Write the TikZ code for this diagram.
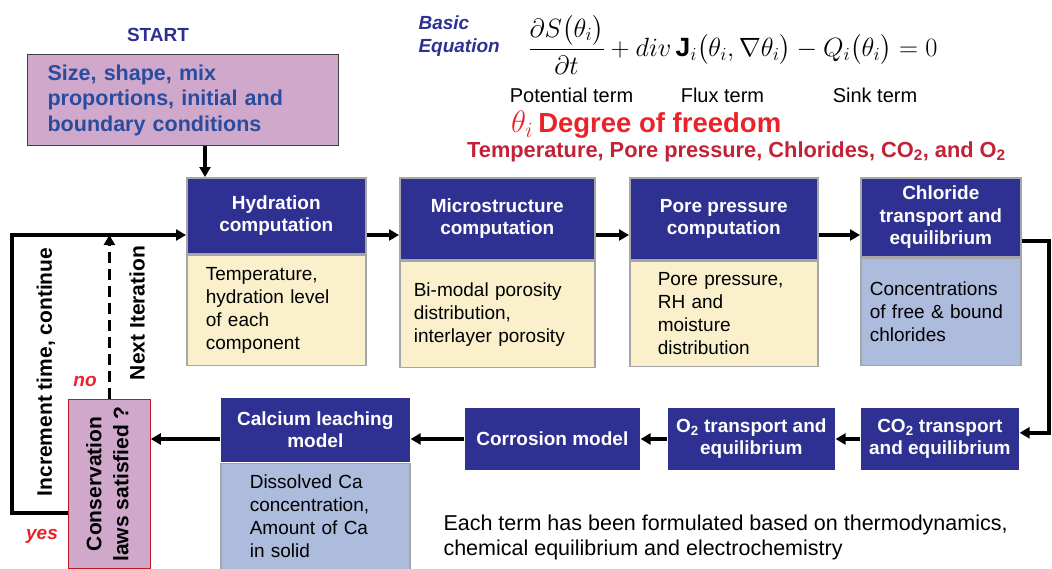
\RequirePackage{fix-cm}
\documentclass[tikz,border=0pt]{standalone}
\usepackage{amsmath}
\usepackage{graphicx}
\usepackage{fontspec}
\setmainfont{Liberation Sans}
\usetikzlibrary{arrows.meta,positioning}
\definecolor{flowNavy}{HTML}{2E3191}
\definecolor{flowInk}{HTML}{2A4C9E}
\definecolor{flowCream}{HTML}{FAF0CC}
\definecolor{flowPale}{HTML}{ADBBDD}
\definecolor{flowPink}{HTML}{CFA8CB}
\definecolor{flowFrame}{HTML}{A6A6A6}
\definecolor{flowRed}{HTML}{EC2229}
\definecolor{flowCrimson}{HTML}{C32236}
\newcommand{\hdrFont}{\fontsize{19}{22.5}\selectfont\bfseries}
\newcommand{\bodyFont}{\fontsize{19}{23}\selectfont}
\newcommand{\sideFont}{\fontsize{21}{27}\selectfont\bfseries}
\tikzset{
 chart/.style={x=1pt,y=-1pt,line join=miter},
 head/.style={fill=flowNavy,text=white,draw=flowFrame,line width=1.6pt,inner sep=0pt,
   anchor=north west,align=center,font=\hdrFont},
 stage/.style={head,draw=none},
 body/.style={fill=flowCream,draw=flowFrame,line width=1.6pt,inner ysep=0pt,
   anchor=north west,align=left,font=\bodyFont},
 result/.style={body,fill=flowPale},
 flow/.style={draw=black,line width=3.4pt,-{Triangle[length=10pt,width=11pt]}},
 dashflow/.style={flow,dash pattern=on 11pt off 6pt},
 sidenote/.style={font=\sideFont,rotate=90},
 verdict/.style={font=\fontsize{19}{19}\selectfont\bfseries\itshape,text=flowRed},
 termlbl/.style={font=\fontsize{20}{20}\selectfont}
}
\begin{document}
\begin{tikzpicture}[chart]
 \useasboundingbox (0,0) rectangle (1052,568);
 % input
 \node[font=\fontsize{19}{19}\selectfont\bfseries,text=flowNavy] (startlbl) at (158,35) {START};
 \node[fill=flowPink,draw=black!75,line width=1.2pt,anchor=north west,align=left,
   minimum width=311,minimum height=91,text width=271,inner xsep=20pt,
   font=\fontsize{21.5}{25.5}\selectfont\bfseries,text=flowInk] (start) at (27,54)
   {Size, shape, mix\\proportions, initial and\\boundary conditions};
 % basic equation
 \node[anchor=west,align=left,text=flowNavy,
   font=\fontsize{19}{23}\selectfont\bfseries\itshape] (basic) at (415,36.5) {Basic\\Equation};
 \node[font=\fontsize{26.4}{30}\selectfont,inner sep=0pt] (eqn) at (733,44.5)
   {$\dfrac{\partial S\big(\theta_i\big)}{\partial t}+div\,\mathbf{J}_i\big(\theta_i,\nabla\theta_i\big)-Q_i\big(\theta_i\big)=0$};
 \node[termlbl] (potential) at (571.5,95) {Potential term};
 \node[termlbl] (flux) at (722.5,95) {Flux term};
 \node[termlbl] (sink) at (875,95) {Sink term};
 \node[anchor=west,text=flowRed,inner sep=0pt] (dof) at (511,125)
   {\fontsize{31}{31}\selectfont$\theta_i$\,\fontsize{27.5}{30}\selectfont\bfseries Degree of freedom};
 \node[anchor=west,text=flowCrimson,inner sep=0pt,font=\fontsize{21.8}{24}\selectfont\bfseries] (dofs) at (467,152)
   {Temperature, Pore pressure, Chlorides, CO\textsubscript{2}, and O\textsubscript{2}};
 % top row
 \node[head,minimum width=179,minimum height=76] (hydH) at (186,177) {Hydration\\computation};
 \node[body,minimum width=179,minimum height=110,text width=141,inner xsep=19pt] (hydB) at (hydH.south west)
   {Temperature,\\hydration level\\of each\\component};
 \node[head,minimum width=195,minimum height=82] (micH) at (399,177) {Microstructure\\computation};
 \node[body,minimum width=195,minimum height=106,text width=167,inner xsep=14pt] (micB) at (micH.south west)
   {Bi-modal porosity\\distribution,\\interlayer porosity};
 \node[head,minimum width=188,minimum height=82] (porH) at (629,177) {Pore pressure\\computation};
 \node[body,minimum width=188,minimum height=105,text width=132,inner xsep=28pt] (porB) at (porH.south west)
   {Pore pressure,\\RH and\\moisture\\distribution};
 \node[head,minimum width=160,minimum height=79] (chlH) at (860,177) {Chloride\\transport and\\equilibrium};
 \node[result,minimum width=160,minimum height=107,text width=142,inner xsep=9pt] (chlB) at (chlH.south west)
   {Concentrations\\of free \& bound\\chlorides};
 % bottom row
 \node[stage,minimum width=158,minimum height=62] (co2) at (860,407) {CO\textsubscript{2} transport\\and equilibrium};
 \node[stage,minimum width=167,minimum height=62] (o2) at (667,407) {O\textsubscript{2} transport and\\equilibrium};
 \node[stage,minimum width=175,minimum height=62] (cor) at (464,407) {Corrosion model};
 \node[stage,minimum width=189,minimum height=64] (calH) at (220,397) {Calcium leaching\\model};
 \node[result,minimum width=189,minimum height=106,text width=131,inner xsep=29pt] (calB) at (calH.south west)
   {Dissolved Ca\\concentration,\\Amount of Ca\\in solid};
 \node[fill=flowPink,draw=flowRed!80!black,line width=.8pt,anchor=north west,inner sep=0pt,
   minimum width=82,minimum height=169,font=\sideFont] (cons) at (68,399)
   {\rotatebox{90}{\begin{tabular}{@{}c@{}}Conservation\\laws satisfied ?\end{tabular}}};
 % connectors
 \coordinate (rowTop) at (0,235);
 \coordinate (rowBot) at (0,439);
 \coordinate (railR) at (1049,241);
 \coordinate (loopTurn) at (12,513);
 \draw[flow] ([xshift=19pt]hydH.north west |- start.south) -- ([xshift=19pt]hydH.north west);
 \draw[flow] (hydH.east |- rowTop) -- (micH.west |- rowTop);
 \draw[flow] (micH.east |- rowTop) -- (porH.west |- rowTop);
 \draw[flow] (porH.east |- rowTop) -- (chlH.west |- rowTop);
 \draw[flow] (chlH.east |- railR) -- (railR) |- ([yshift=6pt]co2.east);
 \draw[flow] (co2.west |- rowBot) -- (o2.east |- rowBot);
 \draw[flow] (o2.west |- rowBot) -- (cor.east |- rowBot);
 \draw[flow] (cor.west |- rowBot) -- (calH.east |- rowBot);
 \draw[flow] (calH.west |- rowBot) -- (cons.east |- rowBot);
 \draw[flow] (cons.west |- loopTurn) -- (loopTurn) -- (loopTurn |- rowTop) -- (hydH.west |- rowTop);
 \draw[dashflow] (cons.north) -- (cons.north |- rowTop);
 % loop labels
 \node[sidenote] (incr) at (46,372) {Increment time, continue};
 \node[sidenote] (nextit) at (137,313) {Next Iteration};
 \node[verdict] (no) at (85,381) {no};
 \node[verdict] (yes) at (42,536) {yes};
 \node[anchor=west,align=left,font=\fontsize{21.5}{25}\selectfont] (closing) at (440,537.5)
   {Each term has been formulated based on thermodynamics,\\chemical equilibrium and electrochemistry};
\end{tikzpicture}
\end{document}
